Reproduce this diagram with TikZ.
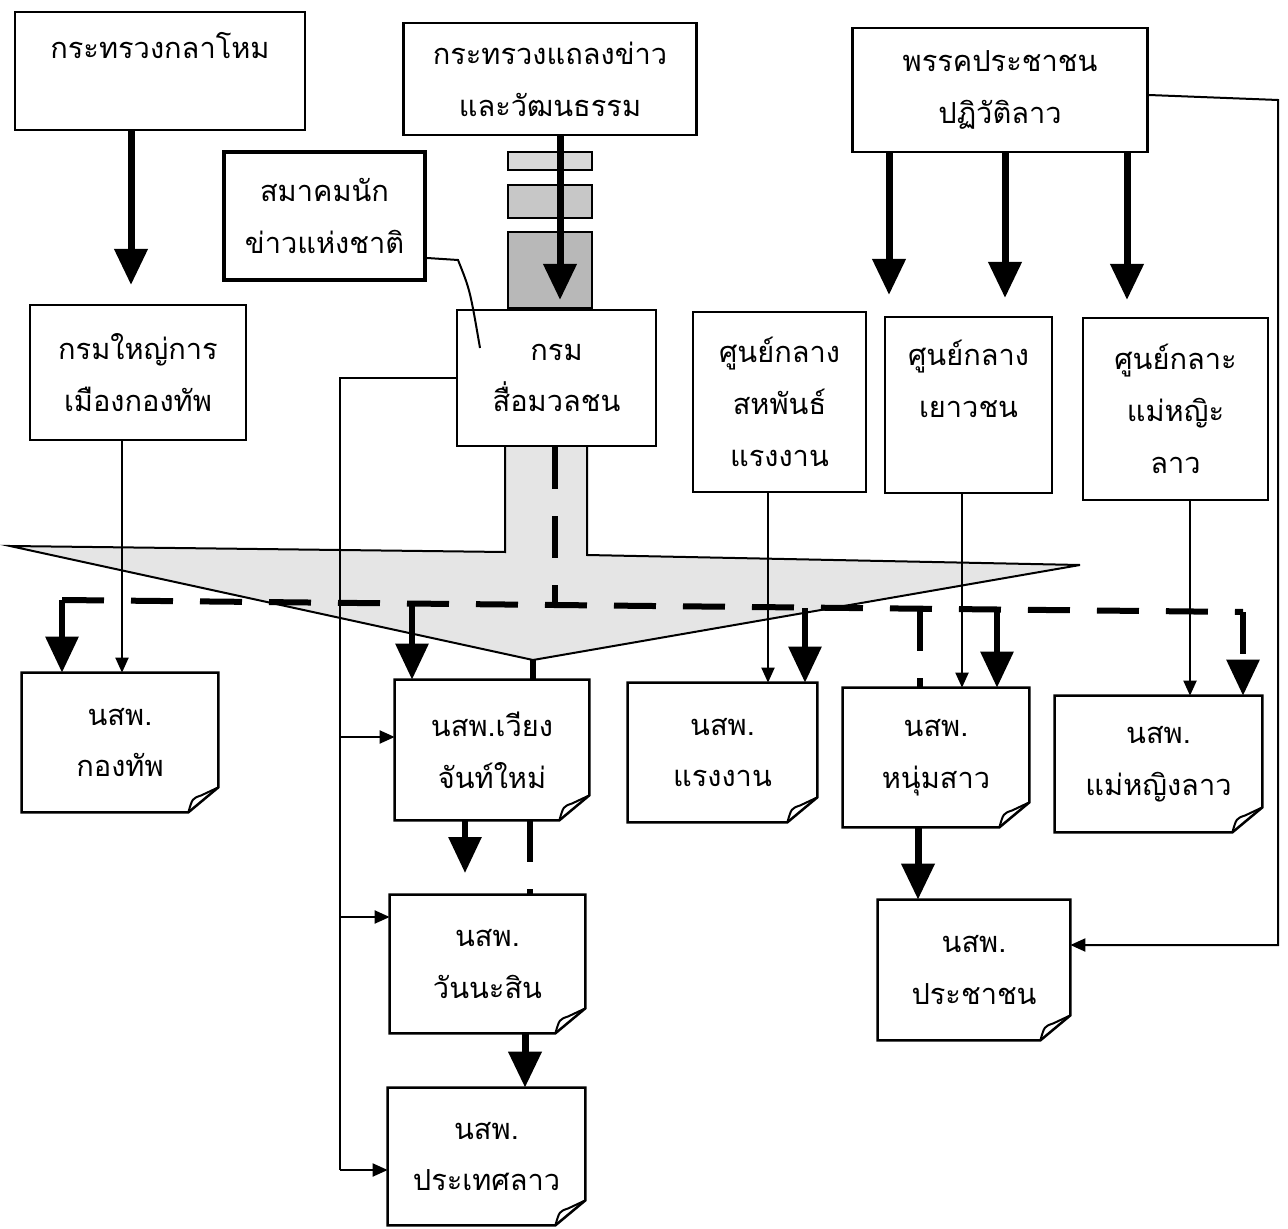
\documentclass[tikz,border=0pt]{standalone}
\usepackage{fontspec}
\newfontfamily\thaifont[Script=Thai]{Loma}
\usetikzlibrary{arrows.meta}
\tikzset{
  boxtxt/.style={align=center, inner sep=0pt, font=\thaifont\fontsize{16.5}{29.5}\selectfont},
  box/.style={boxtxt, draw, line width=0.5mm, fill=white},
  boldbox/.style={boxtxt, draw, line width=0.85mm, fill=white},
  doc/.style={boxtxt, draw=none, fill=white},
  boxline/.style={line width=0.5mm, line join=miter},
  thinline/.style={line width=0.4mm},
  bigarrow/.style={line width=1.4mm, -{Triangle[width=6.4mm,length=7.2mm]}},
  dashline/.style={line width=1.2mm, dash pattern=on 8.4mm off 5.4mm},
  dasharrow/.style={dashline, -{Triangle[width=6.4mm,length=7.2mm]}},
  smallarrow/.style={thinline, -{Triangle[width=2.6mm,length=3mm]}},
}
\newcommand\docframe[1]{%
  \draw[boxline] (#1.north west) -- (#1.north east) -- ([yshift=5mm]#1.south east)
     -- ([xshift=-6mm]#1.south east) -- (#1.south west) -- cycle;
  \draw[thinline] ([xshift=-6mm]#1.south east) .. controls ([xshift=-5.2mm,yshift=2.8mm]#1.south east)
     .. ([xshift=-3.4mm,yshift=3.4mm]#1.south east) -- ([yshift=5mm]#1.south east);}
\begin{document}
\begin{tikzpicture}[x=0.2mm,y=-0.2mm]
\useasboundingbox (0,0) rectangle (1288,1229);
\fill[white] (0,0) rectangle (1288,1229);

% shaded funnel
\draw[thinline, fill=black!10] (10,546) -- (505,552) -- (505,446) -- (587,446) -- (587,555)
  -- (1080,565) -- (533,660) -- cycle;
% scan stamp boxes
\draw[thinline, fill=black!15] (508,152) rectangle (592,170);
\draw[thinline, fill=black!22] (508,185) rectangle (592,218);
\draw[thinline, fill=black!28] (508,232) rectangle (592,308);

% top boxes
\node[box, minimum width=58mm, minimum height=23.6mm] (mod) at (160,71) {กระทรวงกลาโหม\\ \mbox{}};
\node[box, minimum width=58.6mm, minimum height=22.4mm] (info) at (550,79) {กระทรวงแถลงข่าว\\และวัฒนธรรม};
\node[box, minimum width=59mm, minimum height=24.8mm] (party) at (1000,90) {พรรคประชาชน\\ปฏิวัติลาว};
\node[boldbox, minimum width=40.2mm, minimum height=25.6mm] (assoc) at (324.5,216) {สมาคมนัก\\ข่าวแห่งชาติ};

% second row
\node[box, minimum width=43.2mm, minimum height=27mm] (gpd) at (138,372.5) {กรมใหญ่การ\\เมืองกองทัพ};
\node[box, minimum width=39.8mm, minimum height=27.2mm] (mass) at (556.5,378) {กรม\\สื่อมวลชน};
\node[box, minimum width=34.6mm, minimum height=36mm] (labor) at (779.5,402) {ศูนย์กลาง\\สหพันธ์\\แรงงาน};
\node[box, minimum width=33.4mm, minimum height=35.2mm] (youth) at (968.5,405) {ศูนย์กลาง\\เยาวชน\\ \mbox{}};
\node[box, minimum width=37mm, minimum height=36.4mm] (women) at (1175.5,409) {ศูนย์กลาะ\\แม่หญิะ\\ลาว};

% newspapers
\node[doc, minimum width=39.2mm, minimum height=27.8mm] (army) at (120,742.5) {นสพ.\\กองทัพ};
\node[doc, minimum width=38.8mm, minimum height=28mm] (vien) at (492,750) {นสพ.เวียง\\จันท์ใหม่};
\node[doc, minimum width=37.8mm, minimum height=27.8mm] (labpaper) at (722.5,752.5) {นสพ.\\แรงงาน};
\node[doc, minimum width=37.2mm, minimum height=27.8mm] (youthpaper) at (936,757.5) {นสพ.\\หนุ่มสาว};
\node[doc, minimum width=41.4mm, minimum height=27.2mm] (womenpaper) at (1158.5,764) {นสพ.\\แม่หญิงลาว};
\node[doc, minimum width=39mm, minimum height=27.6mm] (vanna) at (487.5,964) {นสพ.\\วันนะสิน};
\node[doc, minimum width=39.4mm, minimum height=27.4mm] (prathet) at (486.5,1156.5) {นสพ.\\ประเทศลาว};
\node[doc, minimum width=38.4mm, minimum height=28mm] (people) at (974,970) {นสพ.\\ประชาชน};
\foreach \d in {army,vien,labpaper,youthpaper,womenpaper,vanna,prathet,people} {\docframe{\d}}

% thick solid arrows
\draw[bigarrow] (mod.south -| 131,0) -- (131,285);
\draw[bigarrow] (info.south -| 560,0) -- (560,300);
\draw[bigarrow] (party.south -| 889,0) -- (889,295);
\draw[bigarrow] (party.south -| 1005,0) -- (1005,298);
\draw[bigarrow] (party.south -| 1127,0) -- (1127,300);
\draw[bigarrow] (youthpaper.south -| 918,0) -- (people.north -| 918,0);
\draw[bigarrow] (vanna.south -| 525,0) -- (prathet.north -| 525,0);

% thin arrows
\draw[smallarrow] (gpd.south -| 122,0) -- (army.north -| 122,0);
\draw[smallarrow] (labor.south -| 768,0) -- (labpaper.north -| 768,0);
\draw[smallarrow] (youth.south -| 962,0) -- (youthpaper.north -| 962,0);
\draw[smallarrow] (women.south -| 1190,0) -- (womenpaper.north -| 1190,0);
\draw[smallarrow] (party.east |- 0,95) -- (1278,100) -- (1278,945) -- (people.east |- 0,945);
\draw[thinline] (mass.west) -- (340,378) -- (340,1170);
\draw[smallarrow] (340,737) -- (vien.west |- 0,737);
\draw[smallarrow] (340,917) -- (vanna.west |- 0,917);
\draw[smallarrow] (340,1170) -- (prathet.west |- 0,1170);
\draw[thinline] (assoc.east |- 0,258) -- (458,260) .. controls (470,290) .. (480,348);

% dashed distribution lines
\draw[dashline] (mass.south -| 555,0) -- (555,605);
\draw[dashline] (62,600) -- (1243,612);
\draw[dasharrow] (62,600) -- (army.north -| 62,0);
\draw[dasharrow] (412,604) -- (vien.north -| 412,0);
\draw[dasharrow] (805,608) -- (labpaper.north -| 805,0);
\draw[dashline] (920,609) -- (youthpaper.north -| 920,0);
\draw[dasharrow] (997,610) -- (youthpaper.north -| 997,0);
\draw[dasharrow] (1243,612) -- (womenpaper.north -| 1243,0);
\draw[line width=1.2mm] (533,660) -- (vien.north -| 533,0);
\draw[dashline] (vien.south -| 530,0) -- (vanna.north -| 530,0);
\draw[dasharrow] (vien.south -| 465,0) -- (465,873);
\end{tikzpicture}
\end{document}
